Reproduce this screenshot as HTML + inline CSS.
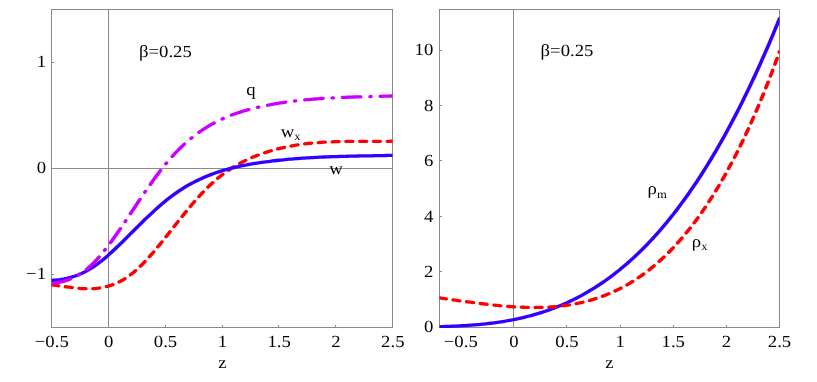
<!DOCTYPE html>
<html><head><meta charset="utf-8"><title>plot</title>
<style>
html,body{margin:0;padding:0;background:#fff;}
body{width:817px;height:382px;overflow:hidden;}
svg{display:block;will-change:transform;}
text{font-family:"Liberation Serif",serif;fill:#000;text-rendering:geometricPrecision;}
.t{font-size:17px;}
.s{font-size:11.5px;}
.ax{stroke:#8a8a8a;stroke-width:1;fill:none;shape-rendering:crispEdges;}
.c{fill:none;stroke-width:3.3;stroke-linecap:round;stroke-linejoin:round;}
</style></head><body>
<svg width="817" height="382" viewBox="0 0 817 382">
<rect width="817" height="382" fill="#fff"/>
<g id="left">
<clipPath id="cl"><rect x="51.5" y="9.5" width="341.0" height="317.7"/></clipPath>
<rect class="ax" x="51.5" y="9.5" width="341.0" height="318.0"/>
<path class="ax" d="M108.5,9.5V327.5 M51.5,168.5H392.5"/>
<path class="ax" d="M165.5,327.5v-2.5 M222.5,327.5v-2.5 M278.5,327.5v-2.5 M335.5,327.5v-2.5 M51.5,62.5h2.5 M51.5,274.5h2.5"/>
<text class="t" transform="translate(51.79,347.10) scale(1.1,1)" text-anchor="middle">−0.5</text>
<text class="t" transform="translate(108.63,347.10) scale(1.1,1)" text-anchor="middle">0</text>
<text class="t" transform="translate(165.47,347.10) scale(1.1,1)" text-anchor="middle">0.5</text>
<text class="t" transform="translate(222.30,347.10) scale(1.1,1)" text-anchor="middle">1</text>
<text class="t" transform="translate(279.13,347.10) scale(1.1,1)" text-anchor="middle">1.5</text>
<text class="t" transform="translate(335.97,347.10) scale(1.1,1)" text-anchor="middle">2</text>
<text class="t" transform="translate(392.81,347.10) scale(1.1,1)" text-anchor="middle">2.5</text>
<text class="t" transform="translate(46.00,67.40) scale(1.1,1)" text-anchor="end">1</text>
<text class="t" transform="translate(46.00,173.40) scale(1.1,1)" text-anchor="end">0</text>
<text class="t" transform="translate(46.00,279.40) scale(1.1,1)" text-anchor="end">−1</text>
<text class="t" transform="translate(222.30,368.00) scale(1.1,1)" text-anchor="middle">z</text>
<g clip-path="url(#cl)"><g transform="scale(1.1,1)">
<path class="c" stroke="#ff0000" stroke-dasharray="6.14 6.38" stroke-dashoffset="-0.31" d="M46.82,284.88 L48.77,285.15 L50.72,285.43 L52.67,285.72 L54.62,286.02 L56.57,286.32 L58.52,286.62 L60.47,286.92 L62.42,287.21 L64.37,287.48 L66.32,287.74 L68.26,287.98 L70.21,288.19 L72.16,288.38 L74.11,288.53 L76.06,288.65 L78.01,288.72 L79.96,288.75 L81.91,288.73 L83.86,288.66 L85.81,288.54 L87.76,288.35 L89.71,288.10 L91.66,287.79 L93.61,287.41 L95.56,286.95 L97.51,286.42 L99.46,285.81 L101.41,285.12 L103.36,284.34 L105.31,283.47 L107.26,282.50 L109.21,281.44 L111.16,280.28 L113.11,279.02 L115.06,277.65 L117.01,276.17 L118.96,274.58 L120.91,272.88 L122.86,271.07 L124.81,269.15 L126.76,267.15 L128.70,265.05 L130.65,262.87 L132.60,260.62 L134.55,258.29 L136.50,255.90 L138.45,253.44 L140.40,250.94 L142.35,248.39 L144.30,245.80 L146.25,243.17 L148.20,240.51 L150.15,237.84 L152.10,235.14 L154.05,232.43 L156.00,229.72 L157.95,227.01 L159.90,224.30 L161.85,221.60 L163.80,218.91 L165.75,216.24 L167.70,213.59 L169.65,210.97 L171.60,208.37 L173.55,205.81 L175.50,203.29 L177.45,200.81 L179.40,198.38 L181.35,195.99 L183.30,193.67 L185.25,191.40 L187.20,189.19 L189.15,187.06 L191.09,184.99 L193.04,183.01 L194.99,181.09 L196.94,179.25 L198.89,177.48 L200.84,175.78 L202.79,174.14 L204.74,172.57 L206.69,171.05 L208.64,169.61 L210.59,168.21 L212.54,166.88 L214.49,165.60 L216.44,164.37 L218.39,163.20 L220.34,162.07 L222.29,160.99 L224.24,159.96 L226.19,158.96 L228.14,158.01 L230.09,157.10 L232.04,156.23 L233.99,155.39 L235.94,154.59 L237.89,153.81 L239.84,153.07 L241.79,152.36 L243.74,151.67 L245.69,151.02 L247.64,150.39 L249.59,149.80 L251.54,149.22 L253.48,148.68 L255.43,148.16 L257.38,147.66 L259.33,147.19 L261.28,146.75 L263.23,146.33 L265.18,145.93 L267.13,145.55 L269.08,145.19 L271.03,144.85 L272.98,144.54 L274.93,144.24 L276.88,143.96 L278.83,143.70 L280.78,143.46 L282.73,143.24 L284.68,143.03 L286.63,142.84 L288.58,142.66 L290.53,142.50 L292.48,142.35 L294.43,142.21 L296.38,142.09 L298.33,141.98 L300.28,141.88 L302.23,141.79 L304.18,141.71 L306.13,141.65 L308.08,141.59 L310.03,141.54 L311.98,141.49 L313.93,141.46 L315.87,141.43 L317.82,141.40 L319.77,141.38 L321.72,141.37 L323.67,141.36 L325.62,141.35 L327.57,141.35 L329.52,141.35 L331.47,141.35 L333.42,141.35 L335.37,141.35 L337.32,141.35 L339.27,141.35 L341.22,141.35 L343.17,141.35 L345.12,141.34 L347.07,141.33 L349.02,141.32 L350.97,141.30 L352.92,141.28 L354.87,141.25 L356.82,141.21"/>
<path class="c" stroke="#3300ff" d="M46.82,280.42 L48.77,280.27 L50.72,280.08 L52.67,279.84 L54.62,279.56 L56.57,279.22 L58.52,278.83 L60.47,278.39 L62.42,277.88 L64.37,277.32 L66.32,276.69 L68.26,275.99 L70.21,275.22 L72.16,274.38 L74.11,273.46 L76.06,272.46 L78.01,271.38 L79.96,270.21 L81.91,268.96 L83.86,267.61 L85.81,266.18 L87.76,264.67 L89.71,263.09 L91.66,261.43 L93.61,259.71 L95.56,257.92 L97.51,256.08 L99.46,254.19 L101.41,252.25 L103.36,250.26 L105.31,248.24 L107.26,246.19 L109.21,244.11 L111.16,242.01 L113.11,239.89 L115.06,237.75 L117.01,235.61 L118.96,233.47 L120.91,231.32 L122.86,229.18 L124.81,227.04 L126.76,224.92 L128.70,222.81 L130.65,220.71 L132.60,218.63 L134.55,216.57 L136.50,214.54 L138.45,212.53 L140.40,210.56 L142.35,208.62 L144.30,206.71 L146.25,204.84 L148.20,203.01 L150.15,201.23 L152.10,199.50 L154.05,197.81 L156.00,196.18 L157.95,194.60 L159.90,193.08 L161.85,191.61 L163.80,190.18 L165.75,188.81 L167.70,187.48 L169.65,186.20 L171.60,184.96 L173.55,183.77 L175.50,182.63 L177.45,181.52 L179.40,180.46 L181.35,179.43 L183.30,178.45 L185.25,177.50 L187.20,176.59 L189.15,175.71 L191.09,174.87 L193.04,174.06 L194.99,173.29 L196.94,172.54 L198.89,171.83 L200.84,171.15 L202.79,170.49 L204.74,169.86 L206.69,169.26 L208.64,168.68 L210.59,168.13 L212.54,167.60 L214.49,167.09 L216.44,166.61 L218.39,166.14 L220.34,165.70 L222.29,165.27 L224.24,164.86 L226.19,164.47 L228.14,164.09 L230.09,163.73 L232.04,163.38 L233.99,163.05 L235.94,162.72 L237.89,162.41 L239.84,162.11 L241.79,161.81 L243.74,161.53 L245.69,161.26 L247.64,160.99 L249.59,160.74 L251.54,160.50 L253.48,160.26 L255.43,160.03 L257.38,159.81 L259.33,159.60 L261.28,159.40 L263.23,159.21 L265.18,159.02 L267.13,158.84 L269.08,158.67 L271.03,158.50 L272.98,158.35 L274.93,158.20 L276.88,158.05 L278.83,157.91 L280.78,157.78 L282.73,157.66 L284.68,157.54 L286.63,157.42 L288.58,157.32 L290.53,157.21 L292.48,157.11 L294.43,157.02 L296.38,156.93 L298.33,156.85 L300.28,156.77 L302.23,156.69 L304.18,156.62 L306.13,156.55 L308.08,156.48 L310.03,156.42 L311.98,156.36 L313.93,156.30 L315.87,156.25 L317.82,156.20 L319.77,156.15 L321.72,156.10 L323.67,156.06 L325.62,156.01 L327.57,155.97 L329.52,155.93 L331.47,155.89 L333.42,155.85 L335.37,155.81 L337.32,155.78 L339.27,155.74 L341.22,155.70 L343.17,155.66 L345.12,155.62 L347.07,155.59 L349.02,155.55 L350.97,155.51 L352.92,155.46 L354.87,155.42 L356.82,155.38"/>
<path class="c" stroke="#cc00ff" stroke-dasharray="16.63 8.37 0.94 8.37" stroke-dashoffset="-1.38" d="M46.82,283.49 L48.77,283.26 L50.72,282.97 L52.67,282.61 L54.62,282.18 L56.57,281.68 L58.52,281.10 L60.47,280.43 L62.42,279.67 L64.37,278.82 L66.32,277.88 L68.26,276.83 L70.21,275.68 L72.16,274.41 L74.11,273.03 L76.06,271.54 L78.01,269.92 L79.96,268.17 L81.91,266.29 L83.86,264.27 L85.81,262.13 L87.76,259.86 L89.71,257.48 L91.66,255.00 L93.61,252.41 L95.56,249.73 L97.51,246.97 L99.46,244.13 L101.41,241.22 L103.36,238.24 L105.31,235.21 L107.26,232.14 L109.21,229.01 L111.16,225.86 L113.11,222.68 L115.06,219.48 L117.01,216.27 L118.96,213.05 L120.91,209.83 L122.86,206.62 L124.81,203.42 L126.76,200.23 L128.70,197.06 L130.65,193.92 L132.60,190.80 L134.55,187.71 L136.50,184.66 L138.45,181.65 L140.40,178.69 L142.35,175.77 L144.30,172.91 L146.25,170.11 L148.20,167.37 L150.15,164.70 L152.10,162.09 L154.05,159.57 L156.00,157.12 L157.95,154.76 L159.90,152.47 L161.85,150.26 L163.80,148.12 L165.75,146.06 L167.70,144.07 L169.65,142.15 L171.60,140.30 L173.55,138.51 L175.50,136.79 L177.45,135.13 L179.40,133.53 L181.35,132.00 L183.30,130.52 L185.25,129.10 L187.20,127.73 L189.15,126.42 L191.09,125.16 L193.04,123.95 L194.99,122.78 L196.94,121.67 L198.89,120.60 L200.84,119.57 L202.79,118.59 L204.74,117.64 L206.69,116.74 L208.64,115.87 L210.59,115.04 L212.54,114.25 L214.49,113.49 L216.44,112.76 L218.39,112.07 L220.34,111.40 L222.29,110.76 L224.24,110.14 L226.19,109.56 L228.14,108.99 L230.09,108.45 L232.04,107.92 L233.99,107.42 L235.94,106.93 L237.89,106.46 L239.84,106.01 L241.79,105.57 L243.74,105.15 L245.69,104.74 L247.64,104.34 L249.59,103.96 L251.54,103.59 L253.48,103.24 L255.43,102.90 L257.38,102.57 L259.33,102.25 L261.28,101.95 L263.23,101.66 L265.18,101.38 L267.13,101.11 L269.08,100.85 L271.03,100.61 L272.98,100.37 L274.93,100.14 L276.88,99.93 L278.83,99.72 L280.78,99.53 L282.73,99.34 L284.68,99.16 L286.63,98.99 L288.58,98.82 L290.53,98.67 L292.48,98.52 L294.43,98.38 L296.38,98.25 L298.33,98.12 L300.28,98.00 L302.23,97.88 L304.18,97.78 L306.13,97.67 L308.08,97.57 L310.03,97.48 L311.98,97.39 L313.93,97.31 L315.87,97.23 L317.82,97.15 L319.77,97.08 L321.72,97.00 L323.67,96.94 L325.62,96.87 L327.57,96.81 L329.52,96.75 L331.47,96.69 L333.42,96.63 L335.37,96.57 L337.32,96.51 L339.27,96.46 L341.22,96.40 L343.17,96.34 L345.12,96.29 L347.07,96.23 L349.02,96.17 L350.97,96.11 L352.92,96.05 L354.87,95.98 L356.82,95.92"/>
</g></g>
<text class="t" transform="translate(139.00,57.10) scale(1.1,1)" text-anchor="start">β=0.25</text>
<text class="t" transform="translate(246.30,94.80) scale(1.1,1)" text-anchor="start">q</text>
<text class="t" transform="translate(280.80,136.60) scale(1.1,1)" text-anchor="start">w<tspan class="s" dy="3.4">x</tspan></text>
<text class="t" transform="translate(329.20,173.60) scale(1.1,1)" text-anchor="start">w</text>
</g>
<g id="right">
<clipPath id="cr"><rect x="439.5" y="9.5" width="340.0" height="318.5"/></clipPath>
<rect class="ax" x="439.5" y="9.5" width="340.0" height="318.0"/>
<path class="ax" d="M513.5,9.5V327.5"/>
<path class="ax" d="M460.5,327.5v-2.5 M566.5,327.5v-2.5 M620.5,327.5v-2.5 M673.5,327.5v-2.5 M726.5,327.5v-2.5 M439.5,271.5h2.5 M439.5,216.5h2.5 M439.5,160.5h2.5 M439.5,105.5h2.5 M439.5,50.5h2.5"/>
<text class="t" transform="translate(460.78,347.10) scale(1.1,1)" text-anchor="middle">−0.5</text>
<text class="t" transform="translate(513.90,347.10) scale(1.1,1)" text-anchor="middle">0</text>
<text class="t" transform="translate(567.02,347.10) scale(1.1,1)" text-anchor="middle">0.5</text>
<text class="t" transform="translate(620.15,347.10) scale(1.1,1)" text-anchor="middle">1</text>
<text class="t" transform="translate(673.27,347.10) scale(1.1,1)" text-anchor="middle">1.5</text>
<text class="t" transform="translate(726.40,347.10) scale(1.1,1)" text-anchor="middle">2</text>
<text class="t" transform="translate(779.52,347.10) scale(1.1,1)" text-anchor="middle">2.5</text>
<text class="t" transform="translate(433.30,332.40) scale(1.1,1)" text-anchor="end">0</text>
<text class="t" transform="translate(433.30,277.00) scale(1.1,1)" text-anchor="end">2</text>
<text class="t" transform="translate(433.30,221.60) scale(1.1,1)" text-anchor="end">4</text>
<text class="t" transform="translate(433.30,166.20) scale(1.1,1)" text-anchor="end">6</text>
<text class="t" transform="translate(433.30,110.80) scale(1.1,1)" text-anchor="end">8</text>
<text class="t" transform="translate(433.30,55.40) scale(1.1,1)" text-anchor="end">10</text>
<text class="t" transform="translate(609.50,368.00) scale(1.1,1)" text-anchor="middle">z</text>
<g clip-path="url(#cr)"><g transform="scale(1.1,1)">
<path class="c" stroke="#3300ff" d="M399.55,326.67 L401.10,326.62 L402.65,326.57 L404.21,326.51 L405.76,326.45 L407.31,326.39 L408.86,326.32 L410.42,326.26 L411.97,326.18 L413.52,326.11 L415.08,326.03 L416.63,325.94 L418.18,325.85 L419.74,325.76 L421.29,325.66 L422.84,325.56 L424.40,325.45 L425.95,325.33 L427.50,325.21 L429.06,325.08 L430.61,324.95 L432.16,324.81 L433.72,324.67 L435.27,324.52 L436.82,324.36 L438.38,324.19 L439.93,324.02 L441.48,323.84 L443.04,323.65 L444.59,323.45 L446.14,323.25 L447.70,323.03 L449.25,322.81 L450.80,322.58 L452.35,322.34 L453.91,322.09 L455.46,321.83 L457.01,321.57 L458.57,321.29 L460.12,321.00 L461.67,320.70 L463.23,320.39 L464.78,320.08 L466.33,319.75 L467.89,319.41 L469.44,319.06 L470.99,318.69 L472.55,318.32 L474.10,317.93 L475.65,317.54 L477.21,317.13 L478.76,316.70 L480.31,316.27 L481.87,315.82 L483.42,315.36 L484.97,314.89 L486.53,314.40 L488.08,313.90 L489.63,313.39 L491.19,312.86 L492.74,312.32 L494.29,311.76 L495.85,311.19 L497.40,310.61 L498.95,310.01 L500.50,309.39 L502.06,308.76 L503.61,308.12 L505.16,307.46 L506.72,306.78 L508.27,306.09 L509.82,305.38 L511.38,304.65 L512.93,303.91 L514.48,303.15 L516.04,302.38 L517.59,301.59 L519.14,300.78 L520.70,299.95 L522.25,299.11 L523.80,298.24 L525.36,297.36 L526.91,296.47 L528.46,295.55 L530.02,294.62 L531.57,293.66 L533.12,292.69 L534.68,291.70 L536.23,290.69 L537.78,289.66 L539.34,288.61 L540.89,287.54 L542.44,286.45 L543.99,285.34 L545.55,284.21 L547.10,283.06 L548.65,281.88 L550.21,280.69 L551.76,279.48 L553.31,278.24 L554.87,276.99 L556.42,275.71 L557.97,274.41 L559.53,273.09 L561.08,271.75 L562.63,270.38 L564.19,268.99 L565.74,267.58 L567.29,266.15 L568.85,264.69 L570.40,263.21 L571.95,261.71 L573.51,260.18 L575.06,258.63 L576.61,257.06 L578.17,255.46 L579.72,253.84 L581.27,252.19 L582.83,250.52 L584.38,248.83 L585.93,247.11 L587.49,245.36 L589.04,243.59 L590.59,241.79 L592.14,239.97 L593.70,238.13 L595.25,236.25 L596.80,234.35 L598.36,232.43 L599.91,230.48 L601.46,228.50 L603.02,226.49 L604.57,224.46 L606.12,222.40 L607.68,220.31 L609.23,218.20 L610.78,216.06 L612.34,213.89 L613.89,211.69 L615.44,209.47 L617.00,207.22 L618.55,204.93 L620.10,202.62 L621.66,200.29 L623.21,197.92 L624.76,195.52 L626.32,193.10 L627.87,190.64 L629.42,188.16 L630.98,185.64 L632.53,183.10 L634.08,180.53 L635.63,177.92 L637.19,175.29 L638.74,172.62 L640.29,169.93 L641.85,167.20 L643.40,164.44 L644.95,161.66 L646.51,158.84 L648.06,155.98 L649.61,153.10 L651.17,150.19 L652.72,147.24 L654.27,144.26 L655.83,141.25 L657.38,138.21 L658.93,135.14 L660.49,132.03 L662.04,128.89 L663.59,125.72 L665.15,122.51 L666.70,119.27 L668.25,116.00 L669.81,112.69 L671.36,109.35 L672.91,105.98 L674.47,102.57 L676.02,99.13 L677.57,95.65 L679.13,92.14 L680.68,88.59 L682.23,85.01 L683.78,81.40 L685.34,77.75 L686.89,74.06 L688.44,70.34 L690.00,66.58 L691.55,62.79 L693.10,58.97 L694.66,55.10 L696.21,51.20 L697.76,47.27 L699.32,43.29 L700.87,39.28 L702.42,35.24 L703.98,31.16 L705.53,27.04 L707.08,22.88 L708.64,18.69"/>
<path class="c" stroke="#ff0000" stroke-dasharray="6.135 6.385" stroke-dashoffset="0.00" d="M399.55,297.97 L401.10,298.21 L402.65,298.44 L404.21,298.68 L405.76,298.92 L407.31,299.15 L408.86,299.39 L410.42,299.63 L411.97,299.87 L413.52,300.11 L415.08,300.35 L416.63,300.59 L418.18,300.82 L419.74,301.06 L421.29,301.30 L422.84,301.53 L424.40,301.76 L425.95,301.99 L427.50,302.22 L429.06,302.45 L430.61,302.68 L432.16,302.90 L433.72,303.12 L435.27,303.33 L436.82,303.55 L438.38,303.76 L439.93,303.97 L441.48,304.17 L443.04,304.37 L444.59,304.57 L446.14,304.76 L447.70,304.94 L449.25,305.13 L450.80,305.30 L452.35,305.47 L453.91,305.64 L455.46,305.80 L457.01,305.96 L458.57,306.11 L460.12,306.25 L461.67,306.38 L463.23,306.51 L464.78,306.64 L466.33,306.75 L467.89,306.86 L469.44,306.96 L470.99,307.05 L472.55,307.13 L474.10,307.21 L475.65,307.27 L477.21,307.33 L478.76,307.38 L480.31,307.42 L481.87,307.45 L483.42,307.47 L484.97,307.48 L486.53,307.48 L488.08,307.47 L489.63,307.44 L491.19,307.41 L492.74,307.36 L494.29,307.31 L495.85,307.24 L497.40,307.16 L498.95,307.07 L500.50,306.96 L502.06,306.84 L503.61,306.71 L505.16,306.56 L506.72,306.40 L508.27,306.23 L509.82,306.04 L511.38,305.84 L512.93,305.63 L514.48,305.39 L516.04,305.15 L517.59,304.88 L519.14,304.60 L520.70,304.31 L522.25,304.00 L523.80,303.67 L525.36,303.32 L526.91,302.96 L528.46,302.58 L530.02,302.18 L531.57,301.76 L533.12,301.33 L534.68,300.88 L536.23,300.40 L537.78,299.91 L539.34,299.40 L540.89,298.87 L542.44,298.31 L543.99,297.74 L545.55,297.15 L547.10,296.53 L548.65,295.90 L550.21,295.24 L551.76,294.56 L553.31,293.86 L554.87,293.13 L556.42,292.38 L557.97,291.61 L559.53,290.81 L561.08,290.00 L562.63,289.15 L564.19,288.28 L565.74,287.39 L567.29,286.47 L568.85,285.53 L570.40,284.56 L571.95,283.56 L573.51,282.54 L575.06,281.49 L576.61,280.42 L578.17,279.31 L579.72,278.18 L581.27,277.02 L582.83,275.83 L584.38,274.61 L585.93,273.37 L587.49,272.09 L589.04,270.79 L590.59,269.45 L592.14,268.08 L593.70,266.69 L595.25,265.26 L596.80,263.80 L598.36,262.31 L599.91,260.78 L601.46,259.23 L603.02,257.64 L604.57,256.01 L606.12,254.36 L607.68,252.67 L609.23,250.94 L610.78,249.18 L612.34,247.39 L613.89,245.56 L615.44,243.69 L617.00,241.79 L618.55,239.85 L620.10,237.87 L621.66,235.86 L623.21,233.81 L624.76,231.72 L626.32,229.59 L627.87,227.43 L629.42,225.22 L630.98,222.98 L632.53,220.70 L634.08,218.37 L635.63,216.01 L637.19,213.60 L638.74,211.15 L640.29,208.66 L641.85,206.13 L643.40,203.56 L644.95,200.94 L646.51,198.28 L648.06,195.58 L649.61,192.83 L651.17,190.04 L652.72,187.20 L654.27,184.32 L655.83,181.39 L657.38,178.42 L658.93,175.39 L660.49,172.33 L662.04,169.21 L663.59,166.05 L665.15,162.84 L666.70,159.58 L668.25,156.27 L669.81,152.91 L671.36,149.51 L672.91,146.05 L674.47,142.54 L676.02,138.98 L677.57,135.37 L679.13,131.71 L680.68,128.00 L682.23,124.23 L683.78,120.41 L685.34,116.54 L686.89,112.61 L688.44,108.63 L690.00,104.59 L691.55,100.50 L693.10,96.36 L694.66,92.15 L696.21,87.89 L697.76,83.58 L699.32,79.20 L700.87,74.77 L702.42,70.28 L703.98,65.73 L705.53,61.13 L707.08,56.46 L708.64,51.73"/>
</g></g>
<text class="t" transform="translate(540.60,56.30) scale(1.1,1)" text-anchor="start">β=0.25</text>
<text class="t" transform="translate(647.60,194.40) scale(1.1,1)" text-anchor="start">ρ<tspan class="s" dy="3.6">m</tspan></text>
<text class="t" transform="translate(691.80,246.70) scale(1.1,1)" text-anchor="start">ρ<tspan class="s" dy="3.6">x</tspan></text>
</g>
</svg>
</body></html>
